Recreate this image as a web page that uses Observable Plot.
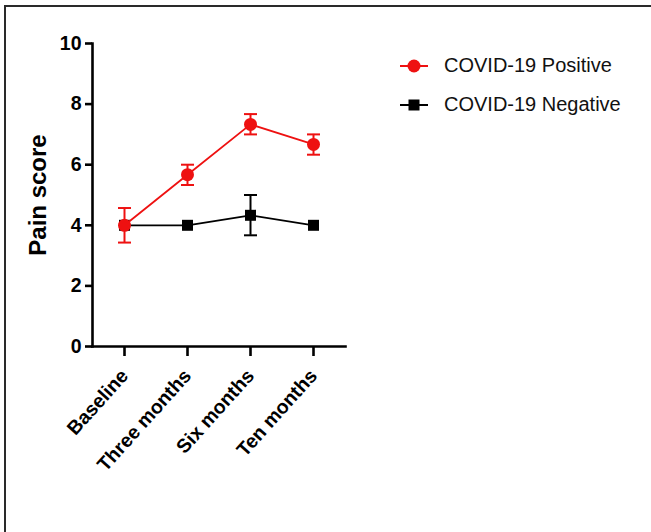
<!DOCTYPE html>
<html><head><meta charset="utf-8">
<script src="https://cdn.jsdelivr.net/npm/d3@7"></script>
<script src="https://cdn.jsdelivr.net/npm/@observablehq/plot@0.6"></script>
<style>
html,body{margin:0;padding:0;background:#fff}
#wrap{position:relative;width:651px;height:532px;overflow:hidden;background:#fff}
#border{position:absolute;left:4px;top:5px;width:700px;height:600px;border-left:2px solid #2a2a2a;border-top:2px solid #2a2a2a}
#chart{position:absolute;left:0;top:0}
#chart svg text{font-weight:bold}
#chart g[aria-label="y-axis label"] text{font-size:24px}
#chart g[aria-label="y-axis tick label"] text{font-size:19.5px}
#chart g[aria-label="x-axis tick label"] text{font-size:19.5px}
#legend{position:absolute;left:400px;top:46px;font-family:"Liberation Sans",Arial,sans-serif;font-size:20px;color:#111}
.item{display:flex;align-items:center;height:39px}
.item svg{margin-right:16px}
</style></head><body>
<div id="wrap"><div id="border"></div><div id="chart"></div><div id="legend"></div></div>
<script>
const timepoints = ["Baseline", "Three months", "Six months", "Ten months"];
const positiveMean = [4.0, 5.67, 7.33, 6.67];
const positiveLow  = [3.43, 5.33, 7.0, 6.33];
const positiveHigh = [4.57, 6.0, 7.67, 7.0];
const negativeMean = [4.0, 4.0, 4.33, 4.0];
const negativeLow  = [4.0, 4.0, 3.67, 4.0];
const negativeHigh = [4.0, 4.0, 5.0, 4.0];
const seriesNames = ["COVID-19 Positive", "COVID-19 Negative"];
const seriesColors = ["#ee1111", "#000000"];
const yTicks = [0, 2, 4, 6, 8, 10];

const pos = timepoints.map((t, i) => ({time: t, mean: positiveMean[i], low: positiveLow[i], high: positiveHigh[i]}));
const neg = timepoints.map((t, i) => ({time: t, mean: negativeMean[i], low: negativeLow[i], high: negativeHigh[i]}));
const negErr = neg.filter(d => d.high > d.low);

const capSymbol = {draw(ctx, size) { const w = 6.5; ctx.moveTo(-w, 0); ctx.lineTo(w, 0); }};

function series(data, errData, color, symbol, r) {
  return [
    Plot.line(data, {x: "time", y: "mean", stroke: color, strokeWidth: 1.8}),
    Plot.ruleX(errData, {x: "time", y1: "low", y2: "high", stroke: color, strokeWidth: 2}),
    Plot.dot(errData, {x: "time", y: "low", symbol: capSymbol, stroke: color, strokeWidth: 2, fill: "none"}),
    Plot.dot(errData, {x: "time", y: "high", symbol: capSymbol, stroke: color, strokeWidth: 2, fill: "none"}),
    Plot.dot(data, {x: "time", y: "mean", symbol: symbol, r: r, fill: color, stroke: "none"})
  ];
}

const chart = Plot.plot({
  width: 651, height: 532,
  marginLeft: 92, marginRight: 306, marginTop: 43, marginBottom: 186,
  style: {fontFamily: '"Liberation Sans", Arial, sans-serif', background: "transparent", color: "#000"},
  x: {type: "point", domain: timepoints, padding: 0.5},
  y: {domain: [0, 10]},
  marks: [
    Plot.frame({anchor: "left", strokeWidth: 2.6}),
    Plot.frame({anchor: "bottom", strokeWidth: 2.6}),
    Plot.axisY({ticks: yTicks, tickSize: 7, tickPadding: 4, strokeWidth: 2.6, fontSize: 19.5, label: "Pain score", labelArrow: "none", labelAnchor: "center", labelOffset: 64}),
    Plot.axisX({tickSize: 10, tickPadding: 16, tickRotate: -48, strokeWidth: 2.6, fontSize: 19.5, label: null}),
    ...series(neg, negErr, seriesColors[1], "square", 6.2),
    ...series(pos, pos, seriesColors[0], "circle", 6.5)
  ]
});
document.getElementById("chart").appendChild(chart);

const legend = document.getElementById("legend");
seriesNames.forEach((name, i) => {
  const item = document.createElement("div");
  item.className = "item";
  const marker = i === 0
    ? `<circle cx="14" cy="9" r="6.5" fill="${seriesColors[i]}"/>`
    : `<rect x="8.5" y="3.5" width="11" height="11" fill="${seriesColors[i]}"/>`;
  item.innerHTML = `<svg width="28" height="18"><line x1="0" x2="28" y1="9" y2="9" stroke="${seriesColors[i]}" stroke-width="2"/>${marker}</svg><span>${name}</span>`;
  legend.appendChild(item);
});
</script>
</body></html>
